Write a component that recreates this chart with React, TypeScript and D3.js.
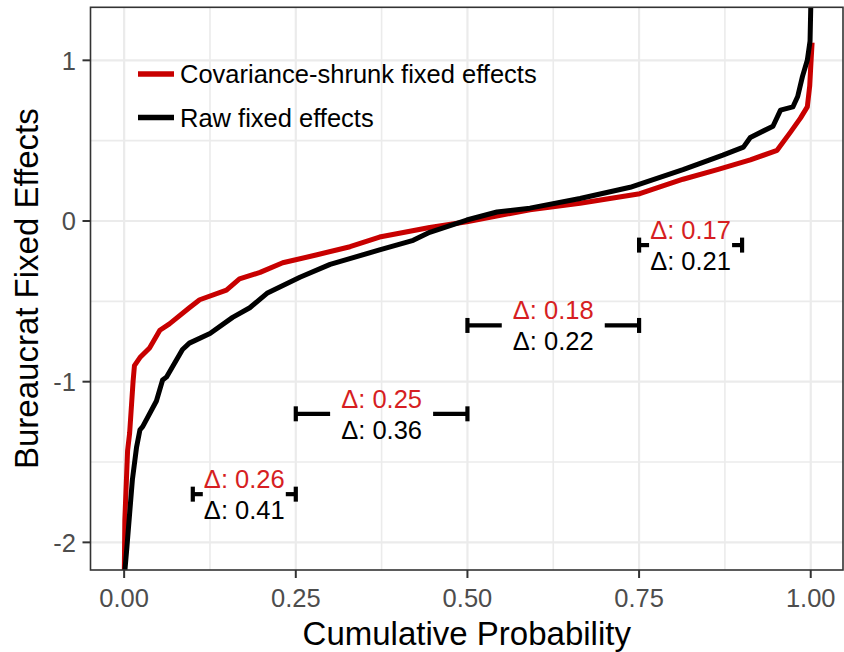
import React from "react";
import * as d3 from "d3";

// ---- Data ----
const P_SHRUNK = [0, 0.001, 0.005, 0.008, 0.013, 0.015, 0.023, 0.037, 0.052, 0.066, 0.095, 0.11, 0.149, 0.168, 0.198, 0.231, 0.281, 0.329, 0.372, 0.445, 0.499, 0.591, 0.664, 0.751, 0.814, 0.864, 0.912, 0.951, 0.97, 0.985, 0.995, 0.9985, 1.0, 1.002];
const V_SHRUNK = [-2.3, -1.86, -1.43, -1.32, -1.0, -0.9, -0.85, -0.79, -0.68, -0.64, -0.54, -0.49, -0.43, -0.36, -0.32, -0.26, -0.21, -0.16, -0.1, -0.04, -0.005, 0.07, 0.11, 0.17, 0.26, 0.32, 0.38, 0.44, 0.55, 0.64, 0.71, 0.84, 0.96, 1.11];

const P_RAW = [0, 0.001, 0.004, 0.008, 0.012, 0.018, 0.023, 0.027, 0.047, 0.056, 0.062, 0.085, 0.095, 0.125, 0.158, 0.183, 0.208, 0.256, 0.3, 0.372, 0.421, 0.445, 0.499, 0.543, 0.591, 0.664, 0.737, 0.751, 0.814, 0.872, 0.902, 0.912, 0.945, 0.956, 0.974, 0.981, 0.988, 0.995, 0.999, 1.0, 1.0];
const V_RAW = [-2.3, -2.18, -2.03, -1.82, -1.61, -1.41, -1.3, -1.28, -1.12, -0.99, -0.97, -0.8, -0.76, -0.7, -0.6, -0.54, -0.45, -0.35, -0.27, -0.18, -0.12, -0.07, 0.006, 0.056, 0.08, 0.14, 0.21, 0.23, 0.32, 0.41, 0.46, 0.52, 0.59, 0.69, 0.71, 0.775, 0.9, 1.0, 1.12, 1.32, 1.6];

const X_TICKS = [0, 0.25, 0.5, 0.75, 1];
const X_TICK_LABELS = ["0.00", "0.25", "0.50", "0.75", "1.00"];
const X_MINOR = [0.125, 0.375, 0.625, 0.875];
const Y_TICKS = [-2, -1, 0, 1];
const Y_TICK_LABELS = ["-2", "-1", "0", "1"];
const Y_MINOR = [-1.5, -0.5, 0.5];

const BAR_START = [0.1, 0.25, 0.5, 0.75];
const BAR_END = [0.25, 0.5, 0.75, 0.9];
const BAR_Y = [-1.7, -1.2, -0.65, -0.15];
const DELTA_SHRUNK = ["0.26", "0.25", "0.18", "0.17"];
const DELTA_RAW = ["0.41", "0.36", "0.22", "0.21"];
const LABEL_HALF_GAP = 0.075;

const SERIES_NAMES = ["Covariance-shrunk fixed effects", "Raw fixed effects"];

// ---- Styles ----
const W = 844;
const H = 652;
const FONT = "'Liberation Sans', Arial, Helvetica, sans-serif";
const RED_LINE = "#C80000";
const RED_TEXT = "#D61E22";
const GRID = "#EBEBEB";
const AXIS = "#333333";

const PANEL = { left: 90.5, right: 843, top: 7.3, bottom: 570 };

export default function App() {
  const x = d3.scaleLinear().domain([-0.049, 1.047]).range([PANEL.left, PANEL.right]);
  const y = d3.scaleLinear().domain([-2.172, 1.33]).range([PANEL.bottom, PANEL.top]);

  const line = d3
    .line<[number, number]>()
    .x((d) => x(d[0]))
    .y((d) => y(d[1]))
    .curve(d3.curveLinear);

  const shrunk: [number, number][] = P_SHRUNK.map((p, i) => [p, V_SHRUNK[i]]);
  const raw: [number, number][] = P_RAW.map((p, i) => [p, V_RAW[i]]);

  const stub = 10;
  const capHalf = 7.5;

  return (
    <svg
      width={W}
      height={H}
      style={{ position: "absolute", left: 0, top: 0, background: "#fff" }}
      fontFamily={FONT}
    >
      <defs>
        <clipPath id="panel-clip">
          <rect
            x={PANEL.left}
            y={PANEL.top}
            width={PANEL.right - PANEL.left}
            height={PANEL.bottom - PANEL.top}
          />
        </clipPath>
      </defs>
      <rect x={0} y={0} width={W} height={H} fill="#fff" />

      {/* grid */}
      <g>
        {X_MINOR.map((v) => (
          <line key={"xm" + v} x1={x(v)} x2={x(v)} y1={PANEL.top} y2={PANEL.bottom} stroke={GRID} strokeWidth={1.6} />
        ))}
        {Y_MINOR.map((v) => (
          <line key={"ym" + v} x1={PANEL.left} x2={PANEL.right} y1={y(v)} y2={y(v)} stroke={GRID} strokeWidth={1.6} />
        ))}
        {X_TICKS.map((v) => (
          <line key={"xg" + v} x1={x(v)} x2={x(v)} y1={PANEL.top} y2={PANEL.bottom} stroke={GRID} strokeWidth={2.2} />
        ))}
        {Y_TICKS.map((v) => (
          <line key={"yg" + v} x1={PANEL.left} x2={PANEL.right} y1={y(v)} y2={y(v)} stroke={GRID} strokeWidth={2.2} />
        ))}
      </g>

      {/* curves */}
      <g clipPath="url(#panel-clip)">
        <path d={line(shrunk) || ""} fill="none" stroke={RED_LINE} strokeWidth={5} strokeLinejoin="round" />
        <path d={line(raw) || ""} fill="none" stroke="#000" strokeWidth={5} strokeLinejoin="round" />
      </g>

      {/* interval bars and labels */}
      {BAR_START.map((s, i) => {
        const e = BAR_END[i];
        const mid = (s + e) / 2;
        const by = y(BAR_Y[i]);
        const x0 = x(s);
        const x1 = x(e);
        const gl = Math.max(x0 + stub, x(mid - LABEL_HALF_GAP));
        const gr = Math.min(x1 - stub, x(mid + LABEL_HALF_GAP));
        return (
          <g key={"bar" + i}>
            <line x1={x0} x2={gl} y1={by} y2={by} stroke="#000" strokeWidth={4.2} />
            <line x1={gr} x2={x1} y1={by} y2={by} stroke="#000" strokeWidth={4.2} />
            <line x1={x0} x2={x0} y1={by - capHalf} y2={by + capHalf} stroke="#000" strokeWidth={4.2} />
            <line x1={x1} x2={x1} y1={by - capHalf} y2={by + capHalf} stroke="#000" strokeWidth={4.2} />
            <text x={x(mid)} y={by - 6} textAnchor="middle" fontSize={25.5} fill={RED_TEXT}>
              {"Δ: " + DELTA_SHRUNK[i]}
            </text>
            <text x={x(mid)} y={by + 25} textAnchor="middle" fontSize={25.5} fill="#000">
              {"Δ: " + DELTA_RAW[i]}
            </text>
          </g>
        );
      })}

      {/* legend */}
      <g>
        <line x1={138} x2={174} y1={74} y2={74} stroke={RED_LINE} strokeWidth={5.5} />
        <text x={180} y={83} fontSize={25.5} fill="#000">
          {SERIES_NAMES[0]}
        </text>
        <line x1={138} x2={174} y1={117.5} y2={117.5} stroke="#000" strokeWidth={5.5} />
        <text x={180} y={127} fontSize={25.5} fill="#000">
          {SERIES_NAMES[1]}
        </text>
      </g>

      {/* panel border */}
      <rect
        x={PANEL.left}
        y={PANEL.top}
        width={PANEL.right - PANEL.left}
        height={PANEL.bottom - PANEL.top}
        fill="none"
        stroke={AXIS}
        strokeWidth={1.6}
      />

      {/* x axis */}
      <g>
        {X_TICKS.map((v, i) => (
          <g key={"xt" + v}>
            <line x1={x(v)} x2={x(v)} y1={PANEL.bottom} y2={PANEL.bottom + 8} stroke={AXIS} strokeWidth={2} />
            <text x={x(v)} y={607} textAnchor="middle" fontSize={25.5} fill="#4D4D4D">
              {X_TICK_LABELS[i]}
            </text>
          </g>
        ))}
        <text x={(PANEL.left + PANEL.right) / 2} y={645} textAnchor="middle" fontSize={33} fill="#000">
          Cumulative Probability
        </text>
      </g>

      {/* y axis */}
      <g>
        {Y_TICKS.map((v, i) => (
          <g key={"yt" + v}>
            <line x1={PANEL.left - 8} x2={PANEL.left} y1={y(v)} y2={y(v)} stroke={AXIS} strokeWidth={2} />
            <text x={76} y={y(v)} dy="0.36em" textAnchor="end" fontSize={25.5} fill="#4D4D4D">
              {Y_TICK_LABELS[i]}
            </text>
          </g>
        ))}
        <text
          transform={`translate(38, ${(PANEL.top + PANEL.bottom) / 2}) rotate(-90)`}
          textAnchor="middle"
          fontSize={33}
          fill="#000"
        >
          Bureaucrat Fixed Effects
        </text>
      </g>
    </svg>
  );
}
